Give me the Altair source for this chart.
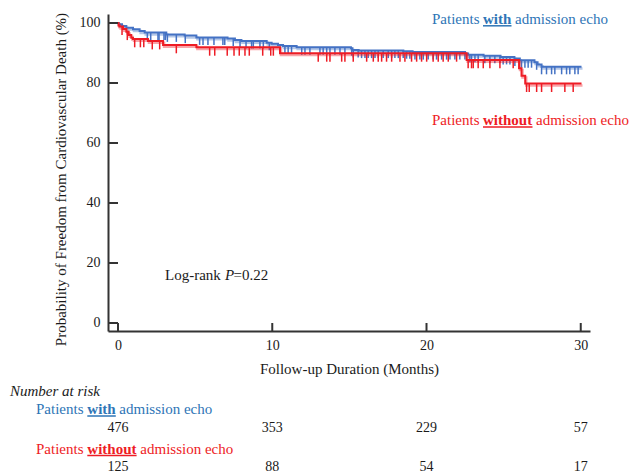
import altair as alt
import pandas as pd

# ---------------- data ----------------
blue_t = [0, 0.05, 0.26, 0.54, 0.97, 1.40, 1.73, 3.13, 4.32, 5.08, 7.10, 7.58, 8.00, 9.64, 9.96,
          10.37, 10.70, 11.58, 15.10, 15.20, 15.60, 18.50, 19.10, 22.50, 22.70, 23.70, 24.80,
          25.70, 26.05, 27.00, 27.20, 27.46, 30.05]
blue_s = [100, 99.6, 99.0, 98.4, 97.9, 97.3, 96.8, 96.2, 95.8, 95.2, 94.8, 94.3, 94.0, 93.4, 93.1,
          92.7, 92.3, 91.9, 91.6, 91.0, 90.8, 90.6, 90.3, 89.8, 89.4, 89.1, 88.7,
          88.2, 87.6, 86.9, 86.2, 85.4, 85.4]

red_t = [0, 0.03, 0.10, 0.32, 0.54, 0.69, 0.86, 0.97, 1.94, 2.92, 5.08, 10.50, 22.60, 26.00,
         26.16, 26.40, 30.05]
red_s = [100, 99.2, 98.8, 98.0, 97.1, 96.0, 95.1, 94.7, 94.0, 92.7, 91.9, 89.9, 87.7, 84.9,
         82.4, 79.8, 79.8]

blue_cens = [1.90, 2.12, 2.59, 2.66, 2.98, 3.07, 3.20, 3.78, 4.36, 5.29, 5.51, 5.83, 6.22, 6.80, 6.92,
             7.47, 7.91, 8.30, 8.66, 8.77, 9.20, 9.42, 9.81, 10.82, 11.03, 11.25, 11.91, 12.12, 12.44,
             13.09, 13.30, 13.53, 13.74, 14.06, 14.39, 14.71, 15.15, 15.25, 15.57, 15.79, 16.01, 16.22,
             16.44, 16.66, 16.87, 17.19, 17.52, 17.74, 17.95, 18.17, 18.49, 18.71, 18.92, 19.25, 19.57,
             19.79, 20.11, 20.43, 20.65, 20.98, 21.30, 21.52, 21.84, 22.16, 22.49, 22.81, 22.92, 23.14,
             23.35, 23.78, 24.11, 24.43, 24.76, 24.97, 25.19, 25.41, 25.73, 26.16, 26.38, 26.59, 26.81,
             27.14, 27.46, 27.78, 28.11, 28.32, 28.76, 29.08, 29.29, 29.62, 29.83]
red_cens = [0.26, 0.60, 1.08, 1.45, 1.67, 2.22, 2.70, 3.78, 5.94, 6.27, 7.08, 7.52, 7.86, 8.23, 8.51,
            9.38, 9.90, 10.07, 12.98, 13.53, 13.74, 14.50, 14.71, 15.25, 16.12, 16.55, 16.87, 17.09,
            17.41, 17.74, 18.28, 18.60, 19.03, 19.36, 19.68, 20.01, 20.43, 20.76, 21.08, 21.41, 21.95,
            22.70, 22.92, 23.03, 23.35, 23.68, 24.11, 24.76, 25.62, 26.49, 26.66, 27.14, 27.46, 28.11,
            28.97, 29.51]

x_ticks = [0, 10, 20, 30]
y_ticks = [0, 20, 40, 60, 80, 100]
risk_with = [476, 353, 229, 57]
risk_without = [125, 88, 54, 17]

BLUE = "#4472C4"
BLUE_TXT = "#2E75B6"
RED = "#EE1C25"
INK = "#1a1a1a"
FONT = "Liberation Serif"
W, H = 482, 317


def surv_at(ts, ss, t):
    s = ss[0]
    for ti, si in zip(ts, ss):
        if ti <= t:
            s = si
    return s


blue_df = pd.DataFrame({"t": blue_t, "s": blue_s})
red_df = pd.DataFrame({"t": red_t, "s": red_s})
blue_c = pd.DataFrame({"t": blue_cens, "s": [surv_at(blue_t, blue_s, c) for c in blue_cens]})
blue_c["s2"] = blue_c["s"] - 2.5
red_c = pd.DataFrame({"t": red_cens, "s": [surv_at(red_t, red_s, c) for c in red_cens]})
red_c["s2"] = red_c["s"] - 2.8

xscale = alt.Scale(domain=[-0.65, 30.6], nice=False, zero=False)
yscale = alt.Scale(domain=[-2.67, 103], nice=False, zero=False)

xaxis = alt.Axis(values=x_ticks, ticks=False, grid=False, domainColor="#333", domainWidth=2,
                 labelFont=FONT, labelFontSize=14, labelColor=INK, labelPadding=7,
                 title="Follow-up Duration (Months)", titleFont=FONT, titleFontSize=15,
                 titleFontWeight="normal", titleColor=INK, titlePadding=9)
yaxis = alt.Axis(values=y_ticks, ticks=False, grid=False, domainColor="#333", domainWidth=2,
                 labelFont=FONT, labelFontSize=14, labelColor=INK, labelPadding=8,
                 title="Probability of Freedom from Cardiovascular Death (%)", titleFont=FONT,
                 titleFontSize=15, titleFontWeight="normal", titleColor=INK,
                 titleX=-40, titleY=165, titleAlign="center", titleBaseline="bottom")


def X(f):
    return alt.X(f, type="quantitative", scale=xscale, axis=xaxis)


def Y(f):
    return alt.Y(f, type="quantitative", scale=yscale, axis=yaxis)


def km(df, color):
    shadow = alt.Chart(df).mark_line(interpolate="step-after", color=color, strokeWidth=2.5,
                                     opacity=0.4, xOffset=1, yOffset=1.8).encode(x=X("t"), y=Y("s"))
    main = alt.Chart(df).mark_line(interpolate="step-after", color=color, strokeWidth=2).encode(
        x=X("t"), y=Y("s"))
    return shadow + main


def cens(df, color):
    return alt.Chart(df).mark_rule(color=color, strokeWidth=1.5).encode(
        x=X("t"), y=Y("s"), y2="s2")


def label(txt, x, y, color=INK, size=15, weight="normal", style="normal", align="left"):
    return alt.Chart(pd.DataFrame({"t": [txt]})).mark_text(
        align=align, baseline="alphabetic", font=FONT, fontSize=size, fontWeight=weight,
        fontStyle=style, color=color).encode(x=alt.value(x), y=alt.value(y), text="t:N")


def uline(x1, x2, y, color):
    return alt.Chart(pd.DataFrame({"a": [0]})).mark_rule(color=color, strokeWidth=1.5).encode(
        x=alt.value(x1), x2=alt.value(x2), y=alt.value(y))


ytick = alt.Chart(pd.DataFrame({"v": y_ticks})).mark_rule(color="#333", strokeWidth=2).encode(
    y=Y("v"), x=alt.value(0), x2=alt.value(10))
xtick = alt.Chart(pd.DataFrame({"v": x_ticks})).mark_rule(color="#333", strokeWidth=2).encode(
    x=X("v"), y=alt.value(H), y2=alt.value(H - 8))

risk1 = alt.Chart(pd.DataFrame({"v": x_ticks, "n": risk_with})).mark_text(
    baseline="alphabetic", font=FONT, fontSize=14, color=INK).encode(
    x=X("v"), y=alt.value(417.5), text="n:N")
risk2 = alt.Chart(pd.DataFrame({"v": x_ticks, "n": risk_without})).mark_text(
    baseline="alphabetic", font=FONT, fontSize=14, color=INK).encode(
    x=X("v"), y=alt.value(456.5), text="n:N")

texts = [
    # top-right legend
    label("Patients", 324, 9.5, BLUE_TXT), label("with", 375, 9.5, BLUE_TXT, weight="bold"),
    label("admission echo", 407, 9.5, BLUE_TXT), uline(375, 403.5, 11.8, BLUE_TXT),
    label("Patients", 324, 111, RED), label("without", 375, 111, RED, weight="bold"),
    label("admission echo", 428, 111, RED), uline(375, 424.5, 113, RED),
    # log-rank
    label("Log-rank", 57, 266), label("P", 117, 266, style="italic"), label("=0.22", 125.5, 266),
    # number at risk
    label("Number at risk", -98, 382, style="italic"),
    label("Patients", -72, 400, BLUE_TXT), label("with", -20.7, 400, BLUE_TXT, weight="bold"),
    label("admission echo", 11.3, 400, BLUE_TXT), uline(-20.7, 7.8, 402, BLUE_TXT),
    label("Patients", -72, 440, RED), label("without", -20.7, 440, RED, weight="bold"),
    label("admission echo", 32.3, 440, RED), uline(-20.7, 28.6, 441.5, RED),
]

chart = alt.layer(
    km(blue_df, BLUE), cens(blue_c, BLUE),
    km(red_df, RED), cens(red_c, RED),
    ytick, xtick, risk1, risk2, *texts
).properties(
    width=W, height=H,
    autosize=alt.AutoSizeParams(type="none"),
    padding={"left": 108, "top": 14, "right": 40, "bottom": 143},
    background="white",
).configure_view(stroke=None)

chart.save("out.html", embed_options={"renderer": "svg", "actions": False})
